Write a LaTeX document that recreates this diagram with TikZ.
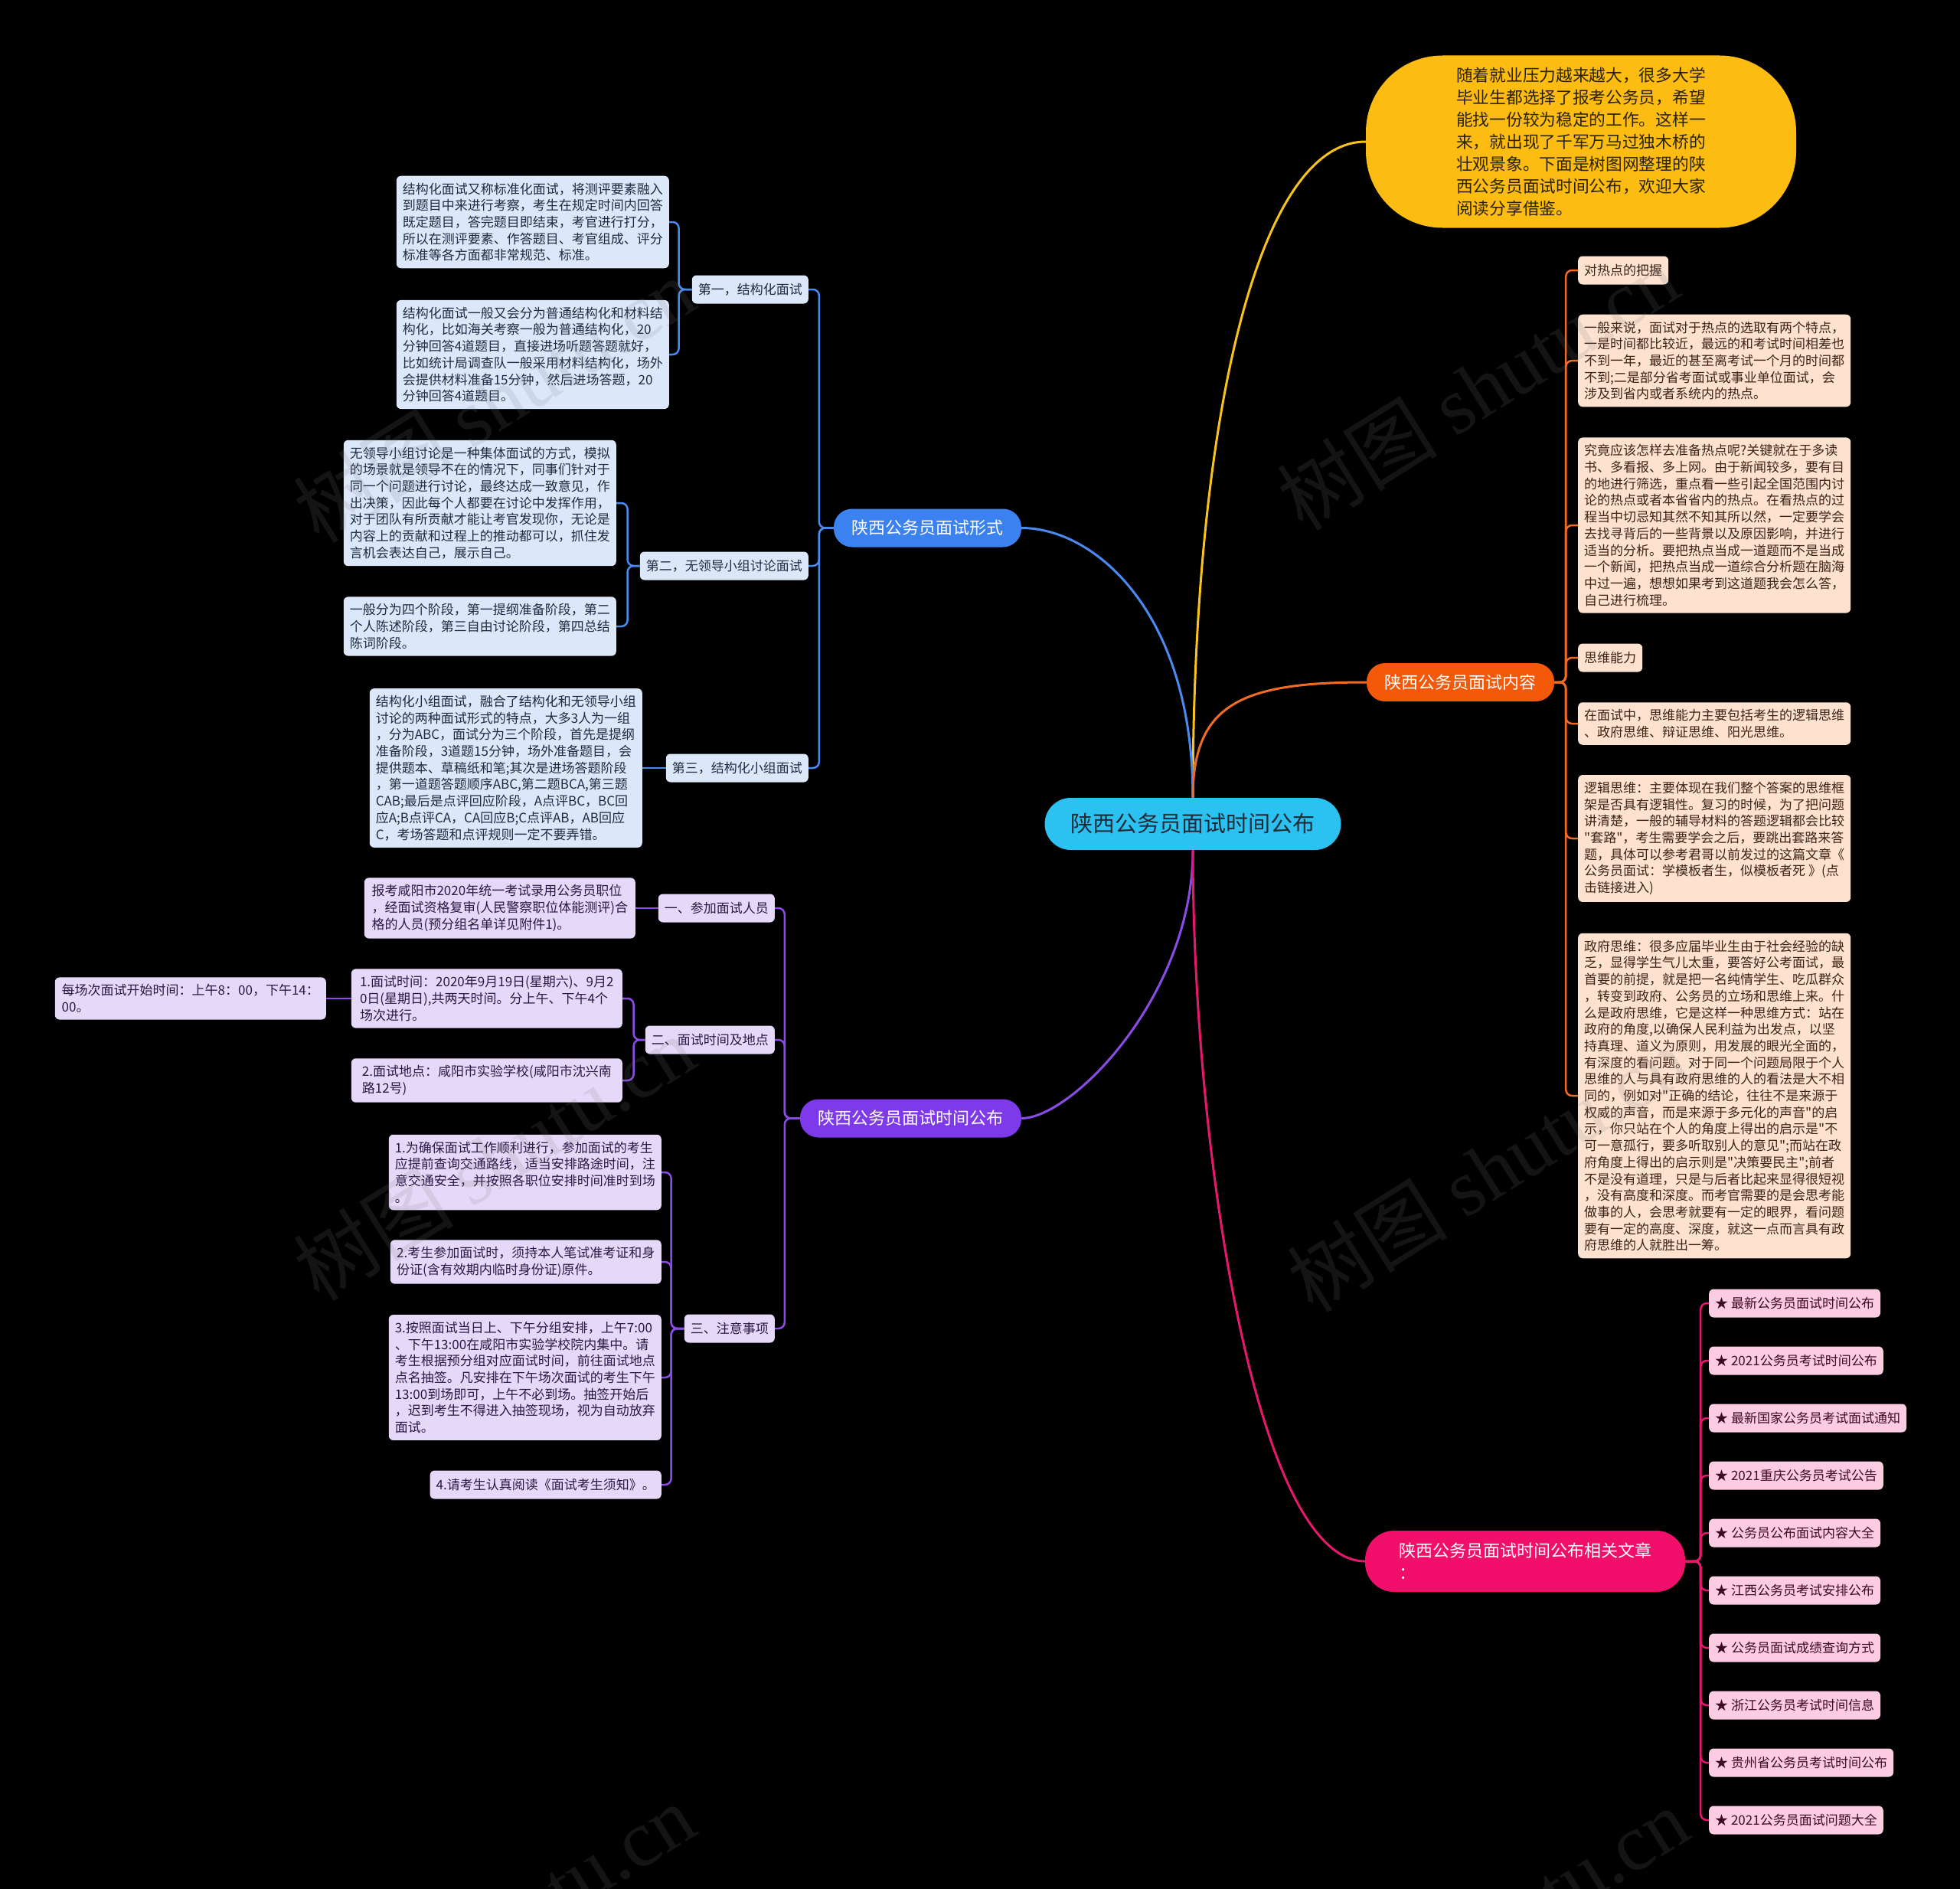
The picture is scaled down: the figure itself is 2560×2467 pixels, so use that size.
\documentclass[tikz,border=0pt]{standalone}
\usepackage{fontspec}
\setmainfont{Noto Sans CJK SC}[Ligatures=TeXOff]
\newfontfamily\wmserif{Liberation Serif}
\definecolor{bgC}{HTML}{000000}
\definecolor{cenFill}{HTML}{2BC1F0}
\definecolor{cenTxt}{HTML}{1E2B38}
\definecolor{yelFill}{HTML}{FCBC12}
\definecolor{yelLine}{HTML}{F7C31A}
\definecolor{yelTxt}{HTML}{2A2206}
\definecolor{bluMain}{HTML}{3B82F0}
\definecolor{bluLine}{HTML}{4A8AF0}
\definecolor{bluBox}{HTML}{DCE7FA}
\definecolor{bluTxt}{HTML}{1F2A44}
\definecolor{orgMain}{HTML}{F4590A}
\definecolor{orgLine}{HTML}{F06B25}
\definecolor{orgBox}{HTML}{FDE2D0}
\definecolor{orgTxt}{HTML}{3D2316}
\definecolor{purMain}{HTML}{7E3AEA}
\definecolor{purLine}{HTML}{8A4BE6}
\definecolor{purBox}{HTML}{E6D8F8}
\definecolor{purTxt}{HTML}{2A1845}
\definecolor{pnkMain}{HTML}{F20F6B}
\definecolor{pnkLine}{HTML}{E5186C}
\definecolor{pnkBox}{HTML}{FCCCE3}
\definecolor{pnkTxt}{HTML}{3E0A22}
\newcommand\fsSmall{\fontsize{17}{21.7}\selectfont}
\newcommand\fsMid{\fontsize{22}{29}\selectfont}
\newcommand\fsBig{\fontsize{29}{34}\selectfont}
\newcommand\fsBub{\fontsize{21.7}{29}\selectfont}
\newcommand\fsWm{\fontsize{105}{105}\selectfont}
\begin{document}
\begin{tikzpicture}[x=1pt,y=-1pt,
  box/.style={rounded corners=6pt, inner xsep=8pt, inner ysep=9pt, align=left, font=\fsSmall},
  one/.style={minimum height=37pt},
  wide/.style={minimum width=354pt},
  bluebox/.style={box, fill=bluBox, text=bluTxt},
  orgbox/.style={box, fill=orgBox, text=orgTxt},
  purbox/.style={box, fill=purBox, text=purTxt},
  pnkbox/.style={box, fill=pnkBox, text=pnkTxt, one},
  mainnode/.style={rounded corners=24pt, minimum height=50pt, font=\fsMid, text=white, inner xsep=23.5pt},
  trunk/.style={line width=2.5pt, rounded corners=8pt},
  curve/.style={line width=3pt},
  wm/.style={rotate=32, text=gray, text opacity=0.16, font=\fsWm}
]
\useasboundingbox (0,0) rectangle (2560,2467);
\fill[bgC] (0,0) rectangle (2560,2467);

% central
\node[fill=cenFill, text=cenTxt, font=\fsBig, minimum width=387pt, minimum height=68pt, rounded corners=34pt] (c) at (1558,1076) {陕西公务员面试时间公布};

% yellow bubble
\node[fill=yelFill, text=yelTxt, font=\fsBub, align=left, minimum width=562pt, minimum height=225pt, rounded corners=100pt] (y) at (2065,185) {随着就业压力越来越大，很多大学\\毕业生都选择了报考公务员，希望\\能找一份较为稳定的工作。这样一\\来，就出现了千军万马过独木桥的\\壮观景象。下面是树图网整理的陕\\西公务员面试时间公布，欢迎大家\\阅读分享借鉴。};

% main branches
\node[mainnode, fill=bluMain] (bl) at (1211.5,689.5) {陕西公务员面试形式};
\node[mainnode, fill=orgMain] (or) at (1907.5,891) {陕西公务员面试内容};
\node[mainnode, fill=purMain] (pu) at (1189.5,1460.5) {陕西公务员面试时间公布};
\node[mainnode, fill=pnkMain, align=left, minimum width=418pt, minimum height=80pt, rounded corners=38pt] (pk) at (1992,2039) {陕西公务员面试时间公布相关文章\\：};

\draw[curve, yelLine] (c.north) .. controls (1558,560) and (1640,185) .. (y.west);
\draw[curve, bluLine] (c.north) .. controls (1558,800) and (1430,689.5) .. (bl.east);
\draw[curve, orgLine] (c.north) .. controls (1558,920) and (1620,891) .. (or.west);
\draw[curve, purLine] (c.south) .. controls (1558,1300) and (1400,1460.5) .. (pu.east);
\draw[curve, pnkLine] (c.south) .. controls (1558,1500) and (1640,2039) .. (pk.west);

% ---------- blue subtree ----------
\node[bluebox, one, anchor=east] (b1) at (1056,378) {第一，结构化面试};
\node[bluebox, one, anchor=east] (b2) at (1056,739) {第二，无领导小组讨论面试};
\node[bluebox, one, anchor=east] (b3) at (1056,1003) {第三，结构化小组面试};
\node[bluebox, wide, anchor=east] (t1) at (874,290) {结构化面试又称标准化面试，将测评要素融入\\到题目中来进行考察，考生在规定时间内回答\\既定题目，答完题目即结束，考官进行打分，\\所以在测评要素、作答题目、考官组成、评分\\标准等各方面都非常规范、标准。};
\node[bluebox, wide, anchor=east] (t2) at (874,463) {结构化面试一般又会分为普通结构化和材料结\\构化，比如海关考察一般为普通结构化，20\\分钟回答4道题目，直接进场听题答题就好，\\比如统计局调查队一般采用材料结构化，场外\\会提供材料准备15分钟，然后进场答题，20\\分钟回答4道题目。};
\node[bluebox, wide, anchor=east] (t3) at (805,657) {无领导小组讨论是一种集体面试的方式，模拟\\的场景就是领导不在的情况下，同事们针对于\\同一个问题进行讨论，最终达成一致意见，作\\出决策，因此每个人都要在讨论中发挥作用，\\对于团队有所贡献才能让考官发现你，无论是\\内容上的贡献和过程上的推动都可以，抓住发\\言机会表达自己，展示自己。};
\node[bluebox, wide, anchor=east] (t4) at (805,818) {一般分为四个阶段，第一提纲准备阶段，第二\\个人陈述阶段，第三自由讨论阶段，第四总结\\陈词阶段。};
\node[bluebox, wide, anchor=east] (t5) at (839,1003) {结构化小组面试，融合了结构化和无领导小组\\讨论的两种面试形式的特点，大多3人为一组\\，分为ABC，面试分为三个阶段，首先是提纲\\准备阶段，3道题15分钟，场外准备题目，会\\提供题本、草稿纸和笔;其次是进场答题阶段\\，第一道题答题顺序ABC,第二题BCA,第三题\\CAB;最后是点评回应阶段，A点评BC，BC回\\应A;B点评CA，CA回应B;C点评AB，AB回应\\C，考场答题和点评规则一定不要弄错。};

\draw[trunk, bluLine] (bl.west) -- ++(-19,0) |- (b1.east);
\draw[trunk, bluLine] (bl.west) -- ++(-19,0) |- (b2.east);
\draw[trunk, bluLine] (bl.west) -- ++(-19,0) |- (b3.east);
\draw[trunk, bluLine] (b1.west) -- ++(-17,0) |- (t1.east);
\draw[trunk, bluLine] (b1.west) -- ++(-17,0) |- (t2.east);
\draw[trunk, bluLine] (b2.west) -- ++(-16,0) |- (t3.east);
\draw[trunk, bluLine] (b2.west) -- ++(-16,0) |- (t4.east);
\draw[trunk, bluLine] (b3.west) -- (t5.east);

% ---------- purple subtree ----------
\node[purbox, one, anchor=east] (p1) at (1012,1186) {一、参加面试人员};
\node[purbox, one, anchor=east] (p2) at (1012,1358) {二、面试时间及地点};
\node[purbox, one, anchor=east] (p3) at (1012,1735) {三、注意事项};
\node[purbox, wide, anchor=east] (pa) at (830,1186) {报考咸阳市2020年统一考试录用公务员职位\\，经面试资格复审(人民警察职位体能测评)合\\格的人员(预分组名单详见附件1)。};
\node[purbox, wide, anchor=east] (pb) at (813,1304) {1.面试时间：2020年9月19日(星期六)、9月2\\0日(星期日),共两天时间。分上午、下午4个\\场次进行。};
\node[purbox, wide, anchor=east] (pc) at (813,1411) {2.面试地点：咸阳市实验学校(咸阳市沈兴南\\路12号)};
\node[purbox, wide, anchor=east] (pd) at (426,1304) {每场次面试开始时间：上午8：00，下午14：\\00。};
\node[purbox, wide, anchor=east] (qa) at (864,1531) {1.为确保面试工作顺利进行，参加面试的考生\\应提前查询交通路线，适当安排路途时间，注\\意交通安全，并按照各职位安排时间准时到场\\。};
\node[purbox, wide, anchor=east] (qb) at (864,1648) {2.考生参加面试时，须持本人笔试准考证和身\\份证(含有效期内临时身份证)原件。};
\node[purbox, wide, anchor=east] (qc) at (864,1799) {3.按照面试当日上、下午分组安排，上午7:00\\、下午13:00在咸阳市实验学校院内集中。请\\考生根据预分组对应面试时间，前往面试地点\\点名抽签。凡安排在下午场次面试的考生下午\\13:00到场即可，上午不必到场。抽签开始后\\，迟到考生不得进入抽签现场，视为自动放弃\\面试。};
\node[purbox, one, anchor=east] (qd) at (864,1939) {4.请考生认真阅读《面试考生须知》。};

\draw[trunk, purLine] (pu.west) -- ++(-20,0) |- (p1.east);
\draw[trunk, purLine] (pu.west) -- ++(-20,0) |- (p2.east);
\draw[trunk, purLine] (pu.west) -- ++(-20,0) |- (p3.east);
\draw[trunk, purLine] (p1.west) -- (pa.east);
\draw[trunk, purLine] (p2.west) -- ++(-15,0) |- (pb.east);
\draw[trunk, purLine] (p2.west) -- ++(-15,0) |- (pc.east);
\draw[trunk, purLine] (pb.west) -- (pd.east);
\draw[trunk, purLine] (p3.west) -- ++(-17,0) |- (qa.east);
\draw[trunk, purLine] (p3.west) -- ++(-17,0) |- (qb.east);
\draw[trunk, purLine] (p3.west) -- ++(-17,0) |- (qc.east);
\draw[trunk, purLine] (p3.west) -- ++(-17,0) |- (qd.east);

% ---------- orange subtree ----------
\node[orgbox, one, anchor=west] (r1) at (2061,353) {对热点的把握};
\node[orgbox, wide, anchor=west] (r2) at (2061,471) {一般来说，面试对于热点的选取有两个特点，\\一是时间都比较近，最远的和考试时间相差也\\不到一年，最近的甚至离考试一个月的时间都\\不到;二是部分省考面试或事业单位面试，会\\涉及到省内或者系统内的热点。};
\node[orgbox, wide, anchor=west] (r3) at (2061,686) {究竟应该怎样去准备热点呢?关键就在于多读\\书、多看报、多上网。由于新闻较多，要有目\\的地进行筛选，重点看一些引起全国范围内讨\\论的热点或者本省省内的热点。在看热点的过\\程当中切忌知其然不知其所以然，一定要学会\\去找寻背后的一些背景以及原因影响，并进行\\适当的分析。要把热点当成一道题而不是当成\\一个新闻，把热点当成一道综合分析题在脑海\\中过一遍，想想如果考到这道题我会怎么答，\\自己进行梳理。};
\node[orgbox, one, anchor=west] (r4) at (2061,859) {思维能力};
\node[orgbox, wide, anchor=west] (r5) at (2061,945) {在面试中，思维能力主要包括考生的逻辑思维\\、政府思维、辩证思维、阳光思维。};
\node[orgbox, wide, anchor=west] (r6) at (2061,1095) {逻辑思维：主要体现在我们整个答案的思维框\\架是否具有逻辑性。复习的时候，为了把问题\\讲清楚，一般的辅导材料的答题逻辑都会比较\\"套路"，考生需要学会之后，要跳出套路来答\\题，具体可以参考君哥以前发过的这篇文章《\\公务员面试：学模板者生，似模板者死 》(点\\击链接进入)};
\node[orgbox, wide, anchor=west] (r7) at (2061,1431) {政府思维：很多应届毕业生由于社会经验的缺\\乏，显得学生气儿太重，要答好公考面试，最\\首要的前提，就是把一名纯情学生、吃瓜群众\\，转变到政府、公务员的立场和思维上来。什\\么是政府思维，它是这样一种思维方式：站在\\政府的角度,以确保人民利益为出发点，以坚\\持真理、道义为原则，用发展的眼光全面的，\\有深度的看问题。对于同一个问题局限于个人\\思维的人与具有政府思维的人的看法是大不相\\同的，例如对"正确的结论，往往不是来源于\\权威的声音，而是来源于多元化的声音"的启\\示，你只站在个人的角度上得出的启示是"不\\可一意孤行，要多听取别人的意见";而站在政\\府角度上得出的启示则是"决策要民主";前者\\不是没有道理，只是与后者比起来显得很短视\\，没有高度和深度。而考官需要的是会思考能\\做事的人，会思考就要有一定的眼界，看问题\\要有一定的高度、深度，就这一点而言具有政\\府思维的人就胜出一筹。};

\foreach \n in {r1,r2,r3,r4,r5,r6,r7}{
  \draw[trunk, orgLine] (or.east) -- ++(15,0) |- (\n.west);
}

% ---------- pink subtree ----------
\node[pnkbox, anchor=west] (s1) at (2232,1702) {★ 最新公务员面试时间公布};
\node[pnkbox, anchor=west] (s2) at (2232,1777) {★ 2021公务员考试时间公布};
\node[pnkbox, anchor=west] (s3) at (2232,1852) {★ 最新国家公务员考试面试通知};
\node[pnkbox, anchor=west] (s4) at (2232,1927) {★ 2021重庆公务员考试公告};
\node[pnkbox, anchor=west] (s5) at (2232,2002) {★ 公务员公布面试内容大全};
\node[pnkbox, anchor=west] (s6) at (2232,2077) {★ 江西公务员考试安排公布};
\node[pnkbox, anchor=west] (s7) at (2232,2152) {★ 公务员面试成绩查询方式};
\node[pnkbox, anchor=west] (s8) at (2232,2227) {★ 浙江公务员考试时间信息};
\node[pnkbox, anchor=west] (s9) at (2232,2302) {★ 贵州省公务员考试时间公布};
\node[pnkbox, anchor=west] (s10) at (2232,2377) {★ 2021公务员面试问题大全};

\foreach \n in {s1,s2,s3,s4,s5,s6,s7,s8,s9,s10}{
  \draw[trunk, pnkLine] (pk.east) -- ++(20,0) |- (\n.west);
}

% ---------- watermarks ----------
\node[wm] (w1) at (645,522) {树图 {\wmserif shutu.cn}};
\node[wm] (w2) at (1930,506) {树图 {\wmserif shutu.cn}};
\node[wm] (w3) at (645,1512) {树图 {\wmserif shutu.cn}};
\node[wm] (w4) at (1943,1527) {树图 {\wmserif shutu.cn}};
\node[wm] (w5) at (645,2515) {树图 {\wmserif shutu.cn}};
\node[wm] (w6) at (1943,2520) {树图 {\wmserif shutu.cn}};
\end{tikzpicture}
\end{document}
